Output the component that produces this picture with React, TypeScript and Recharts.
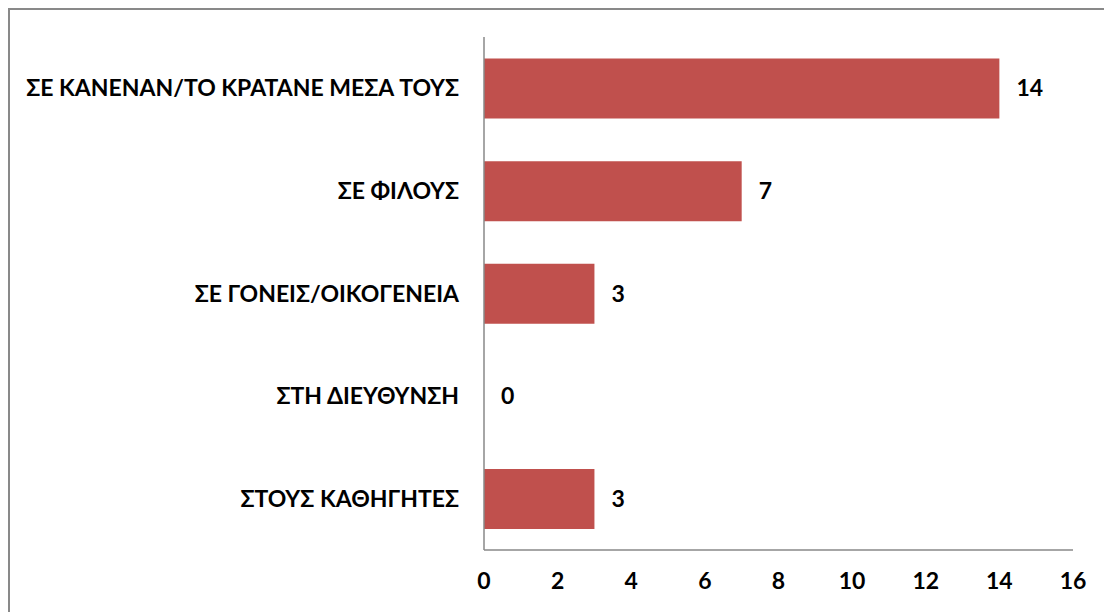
import { BarChart, Bar, XAxis, YAxis, ReferenceDot } from 'recharts';

const categories = [
  'ΣΕ ΚΑΝΕΝΑΝ/ΤΟ ΚΡΑΤΑΝΕ ΜΕΣΑ ΤΟΥΣ',
  'ΣΕ ΦΙΛΟΥΣ',
  'ΣΕ ΓΟΝΕΙΣ/ΟΙΚΟΓΕΝΕΙΑ',
  'ΣΤΗ ΔΙΕΥΘΥΝΣΗ',
  'ΣΤΟΥΣ ΚΑΘΗΓΗΤΕΣ',
];
const counts = [14, 7, 3, 0, 3];
const xTicks = [0, 2, 4, 6, 8, 10, 12, 14, 16];

const data = categories.map((name, i) => ({ name, value: counts[i] }));

const FONT = 'Lato, "DejaVu Sans", sans-serif';
const FS = 23;

export default function App() {
  return (
    <div style={{ position: 'relative', width: 1104, height: 604, overflow: 'hidden' }}>
      {/* outer chart frame, runs past the window on the right and bottom */}
      <div
        style={{
          position: 'absolute',
          left: 0,
          top: 0,
          width: 1200,
          height: 700,
          border: '2px solid #898989',
          boxSizing: 'border-box',
        }}
      />
      <div style={{ position: 'absolute', left: 0, top: 0 }}>
        <BarChart
          width={1104}
          height={604}
          data={data}
          layout="vertical"
          margin={{ top: 29, right: 39, bottom: 32, left: 0 }}
          barCategoryGap="21%"
        >
          <XAxis
            type="number"
            domain={[0, 16]}
            ticks={xTicks}
            interval={0}
            height={30}
            stroke="#898989"
            strokeWidth={1.5}
            tickLine={false}
            tickSize={0}
            tickMargin={23}
            tick={{ fill: '#000', fontSize: FS, fontWeight: 700, fontFamily: FONT }}
          />
          <YAxis
            type="category"
            dataKey="name"
            width={476}
            stroke="#898989"
            strokeWidth={1.5}
            tickLine={false}
            tickSize={0}
            tickMargin={25}
            tick={{ fill: '#000', fontSize: FS, fontWeight: 700, fontFamily: FONT }}
          />
          <Bar dataKey="value" fill="#C0504D" isAnimationActive={false} />
          {/* value labels at the end of each bar, the zero one included */}
          {data.map((d) => (
            <ReferenceDot
              key={d.name}
              x={d.value}
              y={d.name}
              r={1}
              fill="none"
              stroke="none"
              label={{
                value: d.value,
                position: 'right',
                offset: 16,
                fill: '#000',
                fontSize: FS,
                fontWeight: 700,
                fontFamily: FONT,
              }}
            />
          ))}
        </BarChart>
      </div>
    </div>
  );
}
